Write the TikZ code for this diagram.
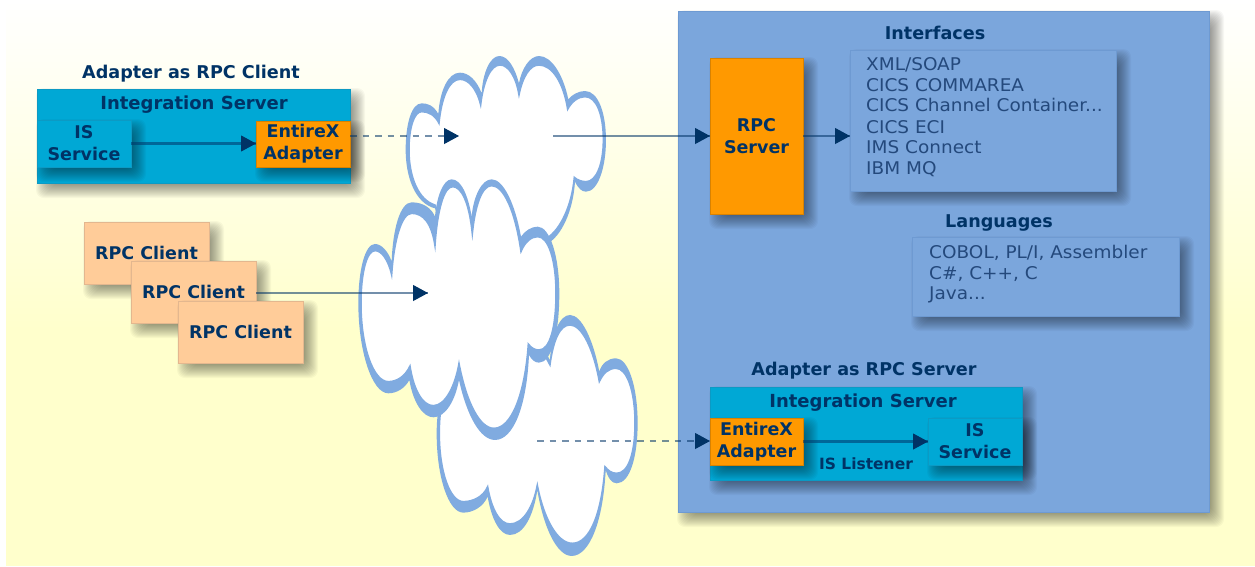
\documentclass[tikz,border=0pt]{standalone}
\usepackage{fontspec}
\setmainfont{DejaVu Sans}
\newfontfamily\listfont{DejaVu Sans}[FakeStretch=1.055]
\usetikzlibrary{arrows.meta,calc}
\definecolor{navy}{HTML}{003366}
\definecolor{panelblue}{HTML}{7BA6DC}
\definecolor{panelline}{HTML}{6E9AD2}
\definecolor{cloudblue}{HTML}{80ABE0}
\definecolor{teal}{HTML}{00A8D5}
\definecolor{tealline}{HTML}{0C9AC4}
\definecolor{orange}{HTML}{FF9900}
\definecolor{peach}{HTML}{FFCC99}
\definecolor{peachline}{HTML}{E3B78F}
\definecolor{cream}{HTML}{FFFFCC}
\definecolor{listtext}{HTML}{24497C}
\tikzset{
  x=1pt,y=-1pt,
  box/.style={minimum width=#1,inner sep=0pt,outer sep=0pt,line width=.8pt,align=center,
    font=\fontsize{17.5}{22}\selectfont\bfseries,text=navy},
  box/.default=94pt,
  tealbox/.style={box,fill=teal,draw=tealline},
  orangebox/.style={box,fill=orange,draw=orange!85!black},
  peachbox/.style={box,fill=peach,draw=peachline,text=navy},
  listbox/.style={inner sep=0pt,outer sep=0pt,fill=panelblue,draw=panelline,line width=.8pt},
  listtext/.style={inner sep=0pt,anchor=base west,font=\listfont\fontsize{17.5}{20}\selectfont,text=listtext},
  title/.style={inner sep=0pt,anchor=base,font=\fontsize{17.6}{20}\selectfont\bfseries,text=navy},
  boxtitle/.style={inner sep=0pt,anchor=base,font=\fontsize{18}{20}\selectfont\bfseries,text=navy},
  conn/.style={line width=2.4pt,navy,draw opacity=.55},
  dashconn/.style={conn,dash pattern=on 6.5pt off 6pt},
  tip/.style={-{Triangle[length=15pt,width=16pt]},navy,line width=1pt},
  cloudouter/.style={fill=cloudblue},
  cloudinner/.style={fill=white,draw=cloudblue,line width=1.5pt,line join=miter},
}
\newcommand{\softshadow}[4]{% x1 y1 x2 y2
  \foreach \r in {-7,-6,...,8}{
    \fill[black,opacity=.031,rounded corners=8pt]
      ({#1+7-\r},{#2+7-\r}) rectangle ({#3+7+\r},{#4+7+\r});
  }}
\newcommand{\arrowtip}[1]{\draw[tip] ($(#1)+(-14,0)$) -- (#1);}
\begin{document}
\begin{tikzpicture}
\useasboundingbox (0,0) rectangle (1255,566);
% background
\fill[white] (0,0) rectangle (1255,566);
\shade[top color=white,bottom color=cream] (6,0) rectangle (1255,330);
\fill[cream] (6,330) rectangle (1255,566);
% clouds
\begin{scope}[shift={(340,40)},x=.3333pt,y=-.3333pt]
  % upper cloud
  \path[cloudouter] (295,222) .. controls (280,195) and (262,190) .. (245,190)
    .. controls (215,190) and (197,250) .. (197,330)
    .. controls (197,410) and (225,490) .. (285,505)
    -- (330,620) -- (600,640) -- (620,612)
    .. controls (665,590) and (700,510) .. (705,425)
    .. controls (715,445) and (725,455) .. (738,455)
    .. controls (775,455) and (798,380) .. (798,300)
    .. controls (798,220) and (775,153) .. (735,153)
    .. controls (715,153) and (695,165) .. (685,178)
    .. controls (670,105) and (635,48) .. (597,48)
    .. controls (570,48) and (545,85) .. (537,130)
    .. controls (525,85) and (505,48) .. (478,48)
    .. controls (450,48) and (428,100) .. (425,160)
    .. controls (410,120) and (385,98) .. (360,98)
    .. controls (325,98) and (300,150) .. (295,222) -- cycle;
  \path[cloudinner] (297,250) .. controls (285,225) and (265,215) .. (245,215)
    .. controls (222,215) and (207,265) .. (207,330)
    .. controls (207,410) and (235,480) .. (285,495)
    -- (330,620) -- (590,640) -- (620,595)
    .. controls (660,570) and (695,500) .. (703,412)
    .. controls (712,420) and (725,425) .. (738,425)
    .. controls (770,425) and (790,370) .. (790,300)
    .. controls (790,225) and (770,170) .. (735,170)
    .. controls (715,170) and (695,185) .. (683,208)
    .. controls (670,125) and (635,75) .. (597,75)
    .. controls (570,75) and (548,110) .. (537,165)
    .. controls (528,110) and (505,75) .. (480,75)
    .. controls (452,75) and (430,125) .. (422,195)
    .. controls (410,145) and (385,118) .. (360,118)
    .. controls (328,118) and (305,170) .. (297,250) -- cycle;
  % lower cloud
  \path[cloudouter] (300,1090) .. controls (292,1120) and (290,1150) .. (290,1180)
    .. controls (290,1310) and (325,1418) .. (370,1418)
    .. controls (400,1418) and (430,1400) .. (443,1370)
    .. controls (455,1440) and (480,1485) .. (510,1485)
    .. controls (550,1485) and (580,1430) .. (592,1350)
    .. controls (610,1460) and (650,1548) .. (695,1548)
    .. controls (750,1548) and (790,1440) .. (797,1290)
    .. controls (805,1315) and (815,1330) .. (830,1330)
    .. controls (870,1330) and (893,1250) .. (893,1150)
    .. controls (893,1040) and (865,955) .. (828,955)
    .. controls (805,955) and (785,970) .. (778,995)
    .. controls (760,900) and (725,825) .. (690,825)
    .. controls (660,825) and (635,880) .. (630,960)
    -- (590,890) -- (300,1000) -- cycle;
  \path[cloudinner] (305,1090) .. controls (300,1120) and (298,1150) .. (298,1180)
    .. controls (298,1295) and (330,1385) .. (370,1385)
    .. controls (400,1385) and (430,1370) .. (443,1340)
    .. controls (455,1410) and (480,1452) .. (510,1452)
    .. controls (550,1452) and (580,1400) .. (592,1335)
    .. controls (610,1430) and (650,1510) .. (697,1510)
    .. controls (750,1510) and (785,1420) .. (795,1280)
    .. controls (805,1292) and (815,1300) .. (830,1300)
    .. controls (865,1300) and (885,1240) .. (885,1150)
    .. controls (885,1050) and (860,985) .. (828,985)
    .. controls (805,985) and (790,1000) .. (778,1025)
    .. controls (760,925) and (725,855) .. (690,855)
    .. controls (660,855) and (640,900) .. (630,975)
    -- (590,900) -- (305,1000) -- cycle;
  % middle cloud
  \path[cloudouter] (155,665) .. controls (145,635) and (125,612) .. (105,612)
    .. controls (75,612) and (55,690) .. (55,790)
    .. controls (55,930) and (95,1060) .. (145,1060)
    .. controls (170,1060) and (195,1045) .. (208,1020)
    .. controls (220,1090) and (250,1132) .. (280,1132)
    .. controls (315,1132) and (345,1085) .. (357,1020)
    .. controls (380,1125) and (420,1200) .. (465,1200)
    .. controls (520,1200) and (560,1100) .. (567,945)
    .. controls (575,960) and (585,968) .. (597,968)
    .. controls (635,968) and (658,880) .. (658,760)
    .. controls (658,650) and (630,560) .. (593,560)
    .. controls (575,560) and (555,572) .. (543,590)
    .. controls (525,490) and (490,418) .. (455,418)
    .. controls (425,418) and (400,470) .. (395,530)
    .. controls (385,470) and (365,418) .. (335,418)
    .. controls (310,418) and (290,470) .. (285,530)
    .. controls (275,505) and (250,487) .. (215,487)
    .. controls (180,487) and (158,570) .. (155,665) -- cycle;
  \path[cloudinner] (155,705) .. controls (145,660) and (125,632) .. (105,632)
    .. controls (80,632) and (63,700) .. (63,790)
    .. controls (63,920) and (100,1025) .. (145,1025)
    .. controls (170,1025) and (195,1010) .. (210,978)
    .. controls (222,1055) and (250,1097) .. (280,1097)
    .. controls (315,1097) and (345,1040) .. (357,970)
    .. controls (380,1090) and (420,1165) .. (462,1165)
    .. controls (515,1165) and (555,1060) .. (565,912)
    .. controls (575,925) and (585,930) .. (597,930)
    .. controls (630,930) and (648,860) .. (648,760)
    .. controls (648,660) and (625,590) .. (593,590)
    .. controls (575,590) and (555,605) .. (543,635)
    .. controls (525,510) and (490,437) .. (455,437)
    .. controls (425,437) and (405,500) .. (397,582)
    .. controls (388,490) and (365,440) .. (338,440)
    .. controls (312,440) and (292,510) .. (285,618)
    .. controls (275,550) and (250,520) .. (215,520)
    .. controls (185,520) and (162,600) .. (155,705) -- cycle;
\end{scope}
% left group
\node[title] (tclient) at (191,78) {Adapter as RPC Client};
\softshadow{37}{89}{350}{183}
\node[tealbox,minimum width=313pt,minimum height=94pt] (isA) at (193.5,136) {};
\node[boxtitle] (isAt) at (194,109) {Integration Server};
\softshadow{37}{120}{131}{167}
\node[tealbox,minimum height=47pt] (svcA) at (84,143.5) {IS\\Service};
\softshadow{256}{121}{350}{167}
\node[orangebox,minimum height=46pt] (adA) at (303,144) {EntireX\\Adapter};
\softshadow{84}{222}{209}{284}
\node[peachbox,minimum width=125pt,minimum height=62pt] (cl1) at (146.5,253) {RPC Client};
\softshadow{131}{261}{256}{323}
\node[peachbox,minimum width=125pt,minimum height=62pt] (cl2) at (193.5,292) {RPC Client};
\softshadow{178}{301}{303}{363}
\node[peachbox,minimum width=125pt,minimum height=62pt] (cl3) at (240.5,332) {RPC Client};
% panel
\softshadow{678}{11}{1209}{512}
\node[inner sep=0pt,outer sep=0pt,fill=panelblue,draw=panelline,line width=.8pt,minimum width=531pt,minimum height=501pt] (panel) at (943.5,261.5) {};
\softshadow{710}{58}{803}{214}
\node[orangebox,minimum width=93pt,minimum height=156pt] (rpcsrv) at (756.5,136) {RPC\\Server};
\node[title] (tif) at (935,39) {Interfaces};
\softshadow{850}{50}{1116}{191}
\node[listbox,minimum width=266pt,minimum height=141pt] (ifbox) at (983,120.5) {};
\node[listtext] (ifa) at (866,70) {XML/SOAP};
\node[listtext] (ifb) at (866,91) {CICS COMMAREA};
\node[listtext] (ifc) at (866,111) {CICS Channel Container...};
\node[listtext] (ifd) at (866,133) {CICS ECI};
\node[listtext] (ife) at (866,153) {IMS Connect};
\node[listtext] (iff) at (866,174) {IBM MQ};
\node[title] (tlang) at (999,227) {Languages};
\softshadow{912}{237}{1179}{316}
\node[listbox,minimum width=267pt,minimum height=79pt] (langbox) at (1045.5,276.5) {};
\node[listtext] (la) at (929,258) {COBOL, PL/I, Assembler};
\node[listtext] (lb) at (929,279) {C\#, C++, C};
\node[listtext] (lc) at (929,299) {Java...};
% lower group
\node[title] (tserver) at (864,375) {Adapter as RPC Server};
\softshadow{710}{387}{1022}{480}
\node[tealbox,minimum width=312pt,minimum height=93pt] (isB) at (866,433.5) {};
\node[boxtitle] (isBt) at (863,407) {Integration Server};
\softshadow{710}{418}{803}{465}
\node[orangebox,minimum width=93pt,minimum height=47pt] (adB) at (756.5,441.5) {EntireX\\Adapter};
\softshadow{928}{418}{1022}{465}
\node[tealbox,minimum height=47pt] (svcB) at (975,441.5) {IS\\Service};
\node[inner sep=0pt,anchor=base,font=\fontsize{15.5}{16}\selectfont\bfseries,text=navy] (lst) at (866,469) {IS Listener};
% free ends inside the clouds
\coordinate (c1in) at (459,136);
\coordinate (c1out) at (553,136);
\coordinate (c2in) at (428,293);
\coordinate (c3out) at (537,441);
% connectors
\draw[conn] (svcA.east) -- (svcA.east -| adA.west);
\arrowtip{svcA.east -| adA.west}
\draw[dashconn] (c1in -| adA.east) -- (c1in);
\arrowtip{c1in}
\draw[conn] (c1out) -- (c1out -| rpcsrv.west);
\arrowtip{c1out -| rpcsrv.west}
\draw[conn] (rpcsrv.east) -- (rpcsrv.east -| ifbox.west);
\arrowtip{rpcsrv.east -| ifbox.west}
\draw[conn] (c2in -| cl2.east) -- (c2in);
\arrowtip{c2in}
\draw[dashconn] (c3out) -- (c3out -| adB.west);
\arrowtip{c3out -| adB.west}
\draw[conn] (adB.east) -- (adB.east -| svcB.west);
\arrowtip{adB.east -| svcB.west}
\end{tikzpicture}
\end{document}
